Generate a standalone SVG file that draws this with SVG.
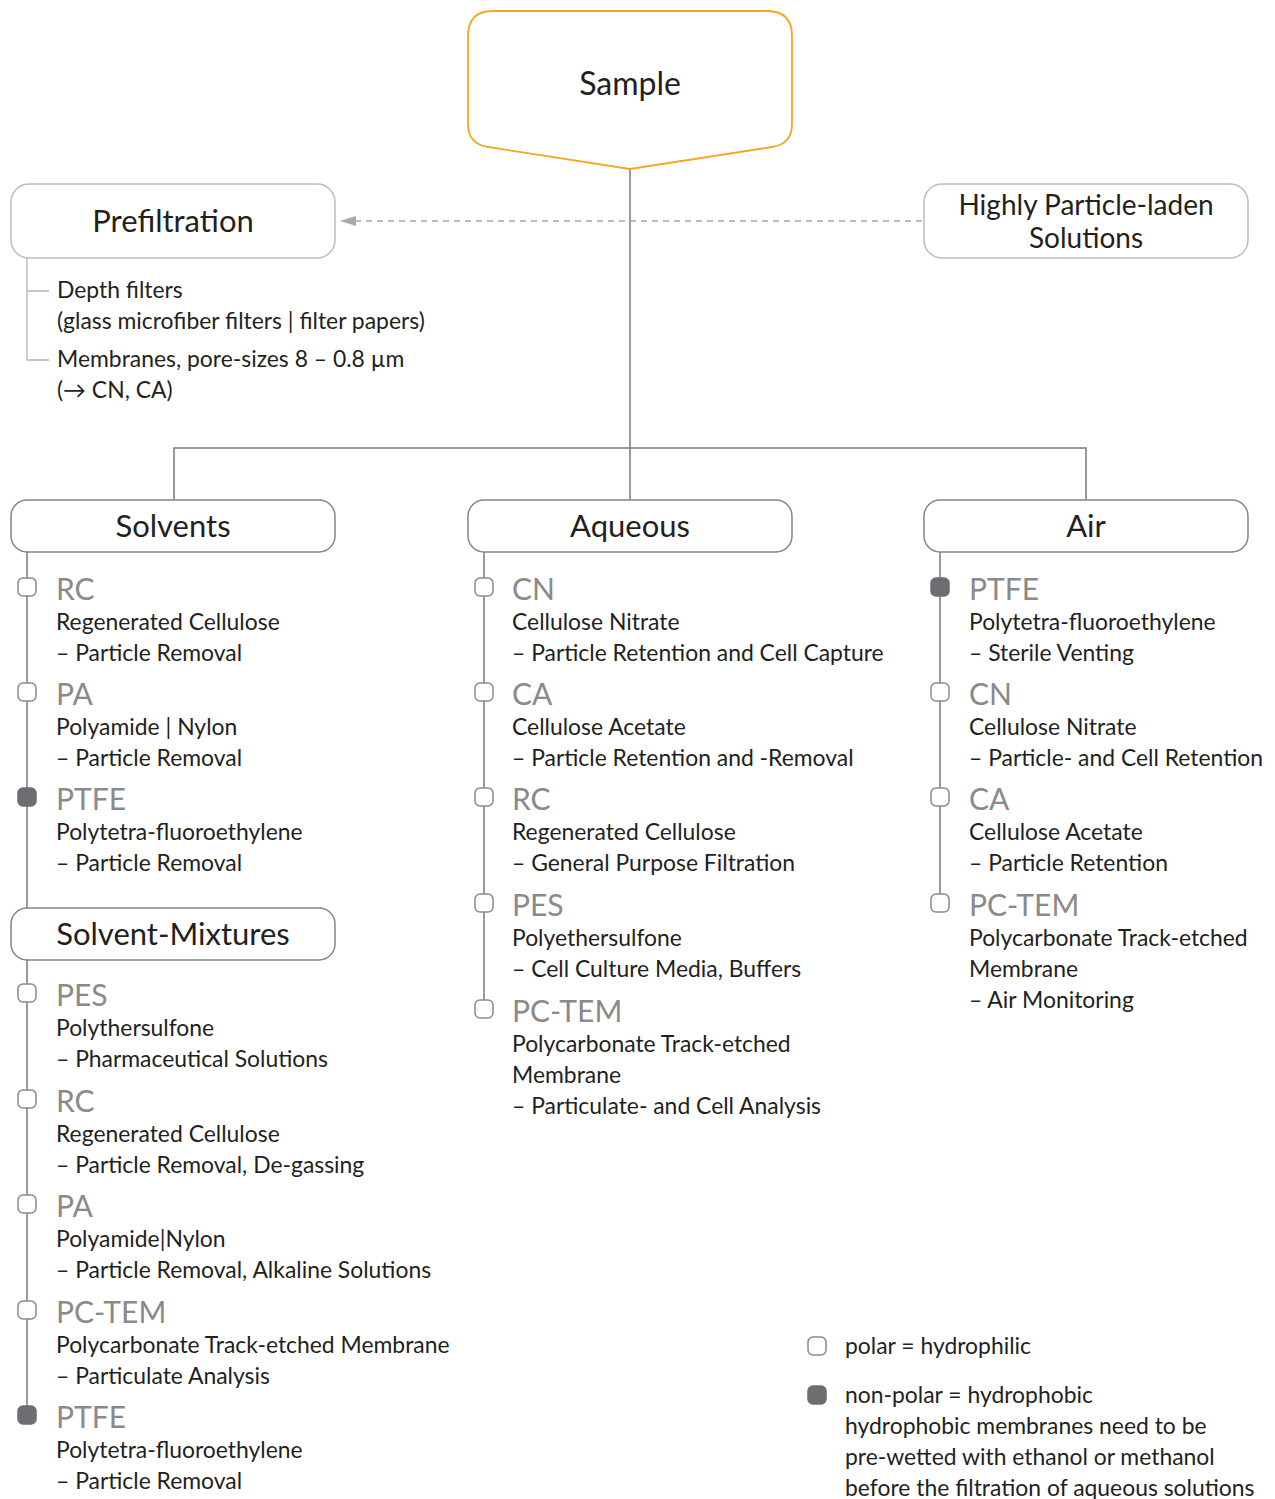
<svg xmlns="http://www.w3.org/2000/svg" width="1275" height="1499" viewBox="0 0 1275 1499">
<style>
text{font-family:Lato,"Liberation Sans",sans-serif;fill:#231f20}
.t{font-size:22.9px}
.h{font-size:30px;fill:#8a8a8a}
.bt{font-size:31px;text-anchor:middle}
.bt2{font-size:28px;text-anchor:middle}
.box{fill:#fff;stroke:#858585;stroke-width:1.5}
.lbox{fill:#fff;stroke:#bdbdbd;stroke-width:1.5}
.ln{fill:none;stroke:#7a7a7a;stroke-width:1.5}
.lln{fill:none;stroke:#b5b5b5;stroke-width:1.3}
.mo{fill:#fff;stroke:#8a8a8a;stroke-width:1.5}
.mf{fill:#6d6e71;stroke:#6d6e71;stroke-width:1.5}
</style>
<rect width="1275" height="1499" fill="#fff"/>
<g id="connectors">
<path class="ln" d="M630,169 V500"/>
<path class="ln" d="M174,500 V448 H1086 V500"/>
<path d="M922,221 H356" fill="none" stroke="#a8a8a8" stroke-width="1.5" stroke-dasharray="6,5"/>
<path d="M340,221 L356,216 L356,226 Z" fill="#a8a8a8"/>
<path class="lln" d="M27,258 V360 H49 M27,291 H49"/>
<path class="ln" d="M27,552 V908"/>
<path class="ln" d="M27,960 V1415"/>
<path class="ln" d="M484,552 V1009"/>
<path class="ln" d="M940,552 V903"/>
</g>
<g id="sample">
<path d="M493,11 H767 Q792,11 792,36 V124 Q792,144 772,147 L630,169 L488,147 Q468,144 468,124 V36 Q468,11 493,11 Z" fill="#fff" stroke="#f5a623" stroke-width="1.8"/>
<text class="bt" x="630" y="95" style="font-size:32px">Sample</text>
</g>
<g id="prefiltration">
<rect class="lbox" x="11" y="184" width="324" height="74" rx="18"/>
<text class="bt" x="173" y="232">Prefiltration</text>
<text class="t" x="57" y="298">Depth filters</text>
<text class="t" x="57" y="329">(glass microfiber filters | filter papers)</text>
<text class="t" x="57" y="367">Membranes, pore-sizes 8 – 0.8 µm</text>
<text class="t" x="57" y="398">(→ CN, CA)</text>
</g>
<g id="highly">
<rect class="lbox" x="924" y="184" width="324" height="74" rx="18"/>
<text class="bt2" x="1086" y="215">Highly Particle-laden</text>
<text class="bt2" x="1086" y="248">Solutions</text>
</g>
<g id="solvents">
<rect class="box" x="11" y="500" width="324" height="52" rx="16"/>
<text class="bt" x="173" y="537">Solvents</text>
</g>
<g id="aqueous">
<rect class="box" x="468" y="500" width="324" height="52" rx="16"/>
<text class="bt" x="630" y="537">Aqueous</text>
</g>
<g id="air">
<rect class="box" x="924" y="500" width="324" height="52" rx="16"/>
<text class="bt" x="1086" y="537">Air</text>
</g>
<g id="solvent-mixtures">
<rect class="box" x="11" y="908" width="324" height="52" rx="16"/>
<text class="bt" x="173" y="945">Solvent-Mixtures</text>
</g>
<!-- Solvents items -->
<g id="sol-rc"><rect class="mo" x="18" y="578" width="18" height="18" rx="5"/>
<text class="h" x="56" y="600">RC</text><text class="t" x="56" y="630">Regenerated Cellulose</text><text class="t" x="56" y="661">– Particle Removal</text></g>
<g id="sol-pa"><rect class="mo" x="18" y="683" width="18" height="18" rx="5"/>
<text class="h" x="56" y="705">PA</text><text class="t" x="56" y="735">Polyamide | Nylon</text><text class="t" x="56" y="766">– Particle Removal</text></g>
<g id="sol-ptfe"><rect class="mf" x="18" y="788" width="18" height="18" rx="5"/>
<text class="h" x="56" y="810">PTFE</text><text class="t" x="56" y="840">Polytetra-fluoroethylene</text><text class="t" x="56" y="871">– Particle Removal</text></g>
<!-- Solvent-Mixtures items -->
<g id="mix-pes"><rect class="mo" x="18" y="984" width="18" height="18" rx="5"/>
<text class="h" x="56" y="1006">PES</text><text class="t" x="56" y="1036">Polythersulfone</text><text class="t" x="56" y="1067">– Pharmaceutical Solutions</text></g>
<g id="mix-rc"><rect class="mo" x="18" y="1090" width="18" height="18" rx="5"/>
<text class="h" x="56" y="1112">RC</text><text class="t" x="56" y="1142">Regenerated Cellulose</text><text class="t" x="56" y="1173">– Particle Removal, De-gassing</text></g>
<g id="mix-pa"><rect class="mo" x="18" y="1195" width="18" height="18" rx="5"/>
<text class="h" x="56" y="1217">PA</text><text class="t" x="56" y="1247">Polyamide|Nylon</text><text class="t" x="56" y="1278">– Particle Removal, Alkaline Solutions</text></g>
<g id="mix-pctem"><rect class="mo" x="18" y="1301" width="18" height="18" rx="5"/>
<text class="h" x="56" y="1323">PC-TEM</text><text class="t" x="56" y="1353">Polycarbonate Track-etched Membrane</text><text class="t" x="56" y="1384">– Particulate Analysis</text></g>
<g id="mix-ptfe"><rect class="mf" x="18" y="1406" width="18" height="18" rx="5"/>
<text class="h" x="56" y="1428">PTFE</text><text class="t" x="56" y="1458">Polytetra-fluoroethylene</text><text class="t" x="56" y="1489">– Particle Removal</text></g>
<!-- Aqueous items -->
<g id="aq-cn"><rect class="mo" x="475" y="578" width="18" height="18" rx="5"/>
<text class="h" x="512" y="600">CN</text><text class="t" x="512" y="630">Cellulose Nitrate</text><text class="t" x="512" y="661">– Particle Retention and Cell Capture</text></g>
<g id="aq-ca"><rect class="mo" x="475" y="683" width="18" height="18" rx="5"/>
<text class="h" x="512" y="705">CA</text><text class="t" x="512" y="735">Cellulose Acetate</text><text class="t" x="512" y="766">– Particle Retention and -Removal</text></g>
<g id="aq-rc"><rect class="mo" x="475" y="788" width="18" height="18" rx="5"/>
<text class="h" x="512" y="810">RC</text><text class="t" x="512" y="840">Regenerated Cellulose</text><text class="t" x="512" y="871">– General Purpose Filtration</text></g>
<g id="aq-pes"><rect class="mo" x="475" y="894" width="18" height="18" rx="5"/>
<text class="h" x="512" y="916">PES</text><text class="t" x="512" y="946">Polyethersulfone</text><text class="t" x="512" y="977">– Cell Culture Media, Buffers</text></g>
<g id="aq-pctem"><rect class="mo" x="475" y="1000" width="18" height="18" rx="5"/>
<text class="h" x="512" y="1022">PC-TEM</text><text class="t" x="512" y="1052">Polycarbonate Track-etched</text><text class="t" x="512" y="1083">Membrane</text><text class="t" x="512" y="1114">– Particulate- and Cell Analysis</text></g>
<!-- Air items -->
<g id="air-ptfe"><rect class="mf" x="931" y="578" width="18" height="18" rx="5"/>
<text class="h" x="969" y="600">PTFE</text><text class="t" x="969" y="630">Polytetra-fluoroethylene</text><text class="t" x="969" y="661">– Sterile Venting</text></g>
<g id="air-cn"><rect class="mo" x="931" y="683" width="18" height="18" rx="5"/>
<text class="h" x="969" y="705">CN</text><text class="t" x="969" y="735">Cellulose Nitrate</text><text class="t" x="969" y="766">– Particle- and Cell Retention</text></g>
<g id="air-ca"><rect class="mo" x="931" y="788" width="18" height="18" rx="5"/>
<text class="h" x="969" y="810">CA</text><text class="t" x="969" y="840">Cellulose Acetate</text><text class="t" x="969" y="871">– Particle Retention</text></g>
<g id="air-pctem"><rect class="mo" x="931" y="894" width="18" height="18" rx="5"/>
<text class="h" x="969" y="916">PC-TEM</text><text class="t" x="969" y="946">Polycarbonate Track-etched</text><text class="t" x="969" y="977">Membrane</text><text class="t" x="969" y="1008">– Air Monitoring</text></g>
<!-- Legend -->
<g id="legend">
<rect class="mo" x="808" y="1337" width="18" height="18" rx="5"/>
<text class="t" x="845" y="1354">polar = hydrophilic</text>
<rect class="mf" x="808" y="1386" width="18" height="18" rx="5"/>
<text class="t" x="845" y="1403">non-polar = hydrophobic</text>
<text class="t" x="845" y="1434">hydrophobic membranes need to be</text>
<text class="t" x="845" y="1465">pre-wetted with ethanol or methanol</text>
<text class="t" x="845" y="1496">before the filtration of aqueous solutions</text>
</g>
</svg>
